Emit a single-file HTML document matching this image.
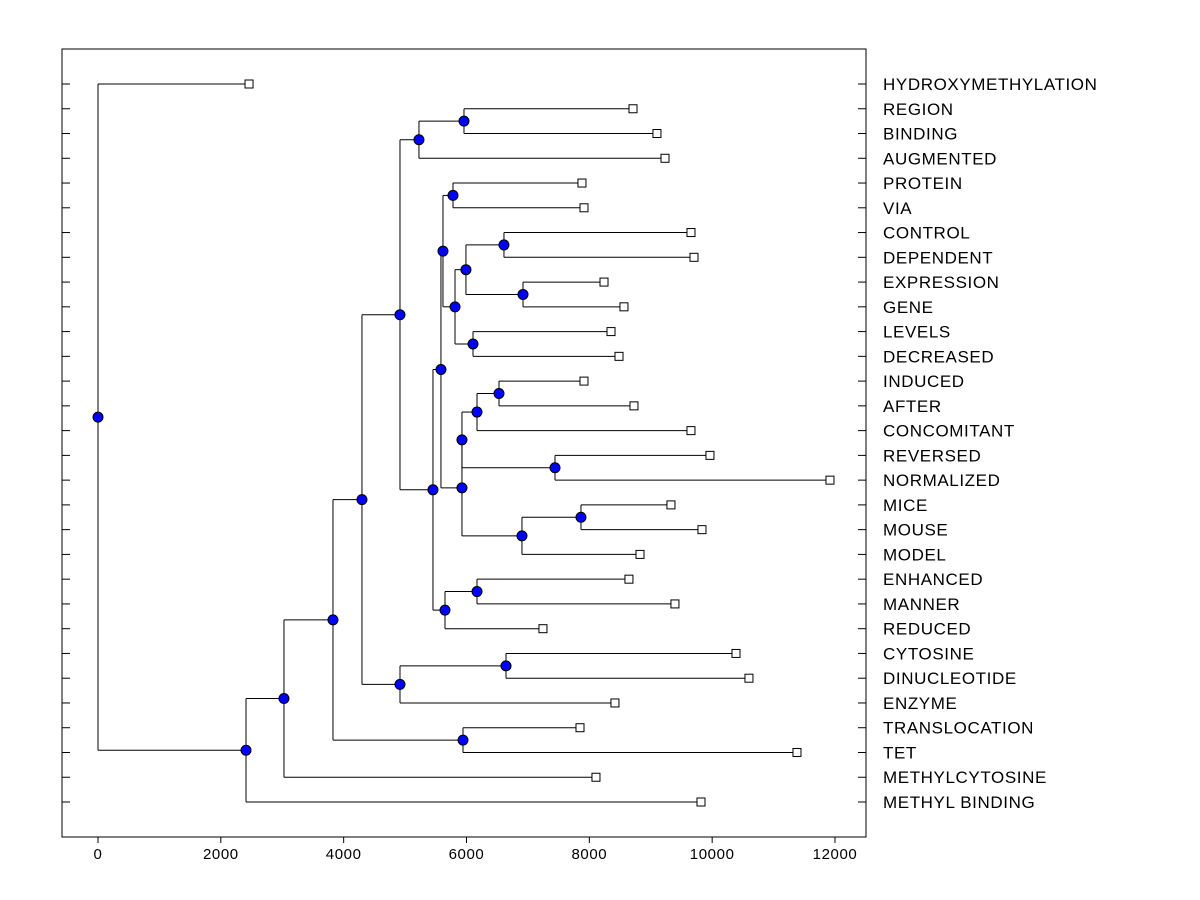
<!DOCTYPE html>
<html><head><meta charset="utf-8"><style>
html,body{margin:0;padding:0;background:#fff;}
svg{display:block;font-family:"Liberation Sans",Arial,sans-serif;}
</style></head>
<body>
<svg id="chart" width="1200" height="900"></svg>
<script>
const leafLabels = ["HYDROXYMETHYLATION","REGION","BINDING","AUGMENTED","PROTEIN","VIA","CONTROL","DEPENDENT","EXPRESSION","GENE","LEVELS","DECREASED","INDUCED","AFTER","CONCOMITANT","REVERSED","NORMALIZED","MICE","MOUSE","MODEL","ENHANCED","MANNER","REDUCED","CYTOSINE","DINUCLEOTIDE","ENZYME","TRANSLOCATION","TET","METHYLCYTOSINE","METHYL BINDING"];
const leafValues = [2459,8711,9101,9232,7880,7913,9655,9704,8239,8564,8353,8483,7913,8727,9655,9964,11918,9329,9834,8825,8645,9394,7245,10388,10599,8417,7848,11381,8108,9818];
const nodeNames = ["RB","RBA","PV","CDp","EG","K","LD","J","H","IA","M","RN","L","MM","MMM","I","G","EM","EMR","F","E","CY","CD","D","TT","C","B","A","root"];
const nodeHeights = [5959,5226,5780,6610,6920,5991,6106,5813,5617,6529,6171,7441,5926,7864,6903,5926,5584,6171,5650,5454,4917,6643,4917,4298,5943,3826,3028,2410,0];
const nodeChildren = [[1,2],["RB",3],[4,5],[6,7],[8,9],["CDp","EG"],[10,11],["K","LD"],["PV","J"],[12,13],["IA",14],[15,16],["M","RN"],[17,18],["MM",19],["L","MMM"],["H","I"],[20,21],["EM",22],["G","EMR"],["RBA","F"],[23,24],["CY",25],["E","CD"],[26,27],["D","TT"],["C",28],["B",29],[0,"A"]];
const xTicks = [0,2000,4000,6000,8000,10000,12000];

const NS="http://www.w3.org/2000/svg";
const svg=document.getElementById('chart');
const L=62,R=866,T=49,B=837;
const x=v=>98+v*(835-98)/12000;
const y=i=>84+i*(802-84)/29;
function mk(tag,attrs,parent){const e=document.createElementNS(NS,tag);for(const k in attrs)e.setAttribute(k,attrs[k]);(parent||svg).appendChild(e);return e;}

const frame=mk('rect',{x:L,y:T,width:R-L,height:B-T,fill:'none',stroke:'#000','stroke-width':1});



leafLabels.forEach((lab,i)=>{
  const t1=mk('line',{x1:L,x2:L+8,y1:y(i),y2:y(i),stroke:'#000'});
  
  
  const t2=mk('line',{x1:R-8,x2:R,y1:y(i),y2:y(i),stroke:'#000'});
  
  
  const tx=mk('text',{x:883,y:y(i)+6,'font-size':17,'letter-spacing':0.6,fill:'#000'});
  tx.textContent=lab;
  
  
});
xTicks.forEach(v=>{
  const t=mk('line',{x1:x(v),x2:x(v),y1:B,y2:B+6,stroke:'#000'});
  
  
  const tx=mk('text',{x:x(v),y:859,'font-size':15,'letter-spacing':0.6,'text-anchor':'middle',fill:'#000'});
  tx.textContent=v;
  
  
});

const pos={};
leafValues.forEach((v,i)=>{pos[i]={x:x(v),y:y(i)};});
nodeNames.forEach((n,k)=>{
  const cs=nodeChildren[k].map(c=>pos[c]);
  pos[n]={x:x(nodeHeights[k]),y:(cs[0].y+cs[1].y)/2,cs};
});
const lines=mk('g',{stroke:'#000','stroke-width':1,fill:'none'});


nodeNames.forEach(n=>{
  const p=pos[n];
  const v=mk('line',{x1:p.x,x2:p.x,y1:p.cs[0].y,y2:p.cs[1].y},lines);
  
  
  p.cs.forEach(c=>{
    const h=mk('line',{x1:p.x,x2:c.x,y1:c.y,y2:c.y},lines);
    
    
  });
});
leafValues.forEach((v,i)=>{
  const r=mk('rect',{x:x(v)-4,y:y(i)-4,width:8,height:8,fill:'#fff',stroke:'#000'});
  
  
});
nodeNames.forEach(n=>{
  const c=mk('circle',{cx:pos[n].x,cy:pos[n].y,r:5,fill:'#0000ff',stroke:'#000'});
  
  
});
</script>
</body></html>
